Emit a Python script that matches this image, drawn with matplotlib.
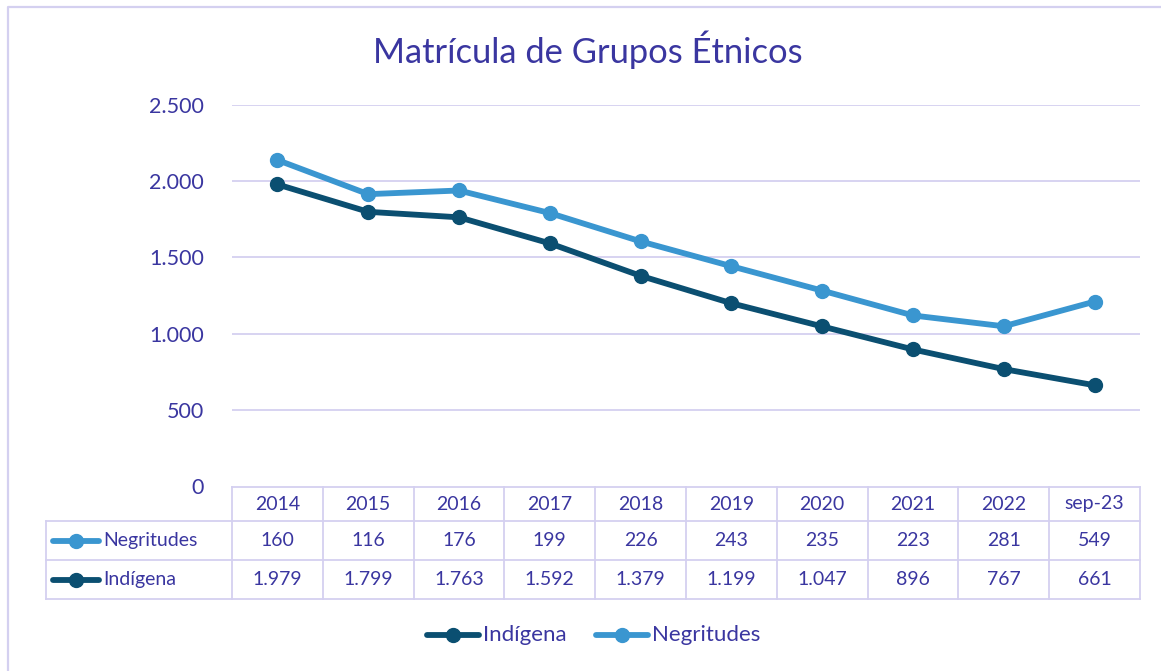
import matplotlib
matplotlib.use("Agg")
import matplotlib.pyplot as plt
from matplotlib.patches import Rectangle
from matplotlib.lines import Line2D
import numpy as np

categories = ["2014", "2015", "2016", "2017", "2018", "2019", "2020", "2021", "2022", "sep-23"]
indigena = [1979, 1799, 1763, 1592, 1379, 1199, 1047, 896, 767, 661]
negritudes = [160, 116, 176, 199, 226, 243, 235, 223, 281, 549]
yticks = [0, 500, 1000, 1500, 2000, 2500]

W, H = 1161, 671
plt.rcParams['font.family'] = ['Lato', 'DejaVu Sans']
TXT = '#3a36a0'
GRID = '#d4d0f0'
C_IND = '#0b4f71'
C_NEG = '#3a96d0'

def fmt(v):
    return f"{v:,}".replace(",", ".")

fig = plt.figure(figsize=(W/100, H/100), dpi=100)

def fx(x):
    return x / W
def fy(y):
    return 1 - y / H

# outer border (extends beyond right/bottom edges)
fig.add_artist(Line2D([fx(7.5), fx(7.5), fx(1170)], [fy(690), fy(6.5), fy(6.5)],
                      transform=fig.transFigure, color=GRID, lw=1.6))

x0, x1, ytop, ybot = 232, 1140, 105, 486
ax = fig.add_axes([fx(x0), fy(ybot), (x1-x0)/W, (ybot-ytop)/H])
n = len(categories)
xs = np.arange(n)
ax.set_xlim(-0.5, n-0.5)
ax.set_ylim(0, 2500)
for s in ax.spines.values():
    s.set_visible(False)
ax.set_yticks(yticks)
ax.set_yticklabels([fmt(v) for v in yticks], color=TXT, fontsize=15.5)
ax.tick_params(axis='y', length=0, pad=20)
ax.set_xticks([])
for v in yticks[1:]:
    ax.axhline(v, color=GRID, lw=1.3, zorder=0)

stack = [a + b for a, b in zip(indigena, negritudes)]
ax.plot(xs, indigena, color=C_IND, lw=4.2, marker='o', ms=10, clip_on=False, zorder=3,
        solid_capstyle='round')
ax.plot(xs, stack, color=C_NEG, lw=4.2, marker='o', ms=10, clip_on=False, zorder=3,
        solid_capstyle='round')

fig.text(fx(588), fy(50), "Matrícula de Grupos Étnicos", ha='center', va='center',
         color=TXT, fontsize=24.8)

# data table
rows_y = [487, 521, 560, 599]
left_tab = 46
colw = (x1 - x0) / n
FS = 14
def hline(xa, xb, y):
    fig.add_artist(Line2D([fx(xa), fx(xb)], [fy(y), fy(y)], transform=fig.transFigure,
                          color=GRID, lw=1.3))
def vline(x, ya, yb):
    fig.add_artist(Line2D([fx(x), fx(x)], [fy(ya), fy(yb)], transform=fig.transFigure,
                          color=GRID, lw=1.3))
hline(x0, x1, rows_y[0])
for y in rows_y[1:]:
    hline(left_tab, x1, y)
for i in range(n + 1):
    vline(x0 + i*colw, rows_y[0], rows_y[3])
vline(left_tab, rows_y[1], rows_y[3])

for i, c in enumerate(categories):
    cx = x0 + (i + 0.5) * colw
    fig.text(fx(cx), fy((rows_y[0]+rows_y[1])/2), c, ha='center', va='center', color=TXT, fontsize=FS)
    fig.text(fx(cx), fy((rows_y[1]+rows_y[2])/2), fmt(negritudes[i]), ha='center', va='center', color=TXT, fontsize=FS)
    fig.text(fx(cx), fy((rows_y[2]+rows_y[3])/2), fmt(indigena[i]), ha='center', va='center', color=TXT, fontsize=FS)

def legend_key(xa, xb, y, color, label, fs):
    fig.add_artist(Line2D([fx(xa), fx(xb)], [fy(y), fy(y)], transform=fig.transFigure,
                          color=color, lw=4.2, solid_capstyle='round'))
    fig.add_artist(Line2D([fx((xa+xb)/2)], [fy(y)], transform=fig.transFigure,
                          color=color, marker='o', ms=10, lw=0))
    fig.text(fx(xb + 4), fy(y), label, ha='left', va='center', color=TXT, fontsize=fs)

legend_key(53, 99, (rows_y[1]+rows_y[2])/2, C_NEG, "Negritudes", FS)
legend_key(53, 99, (rows_y[2]+rows_y[3])/2, C_IND, "Indígena", FS)

legend_key(427, 479, 635, C_IND, "Indígena", 16)
legend_key(596, 648, 635, C_NEG, "Negritudes", 16)

fig.savefig("out.png", dpi=100)
